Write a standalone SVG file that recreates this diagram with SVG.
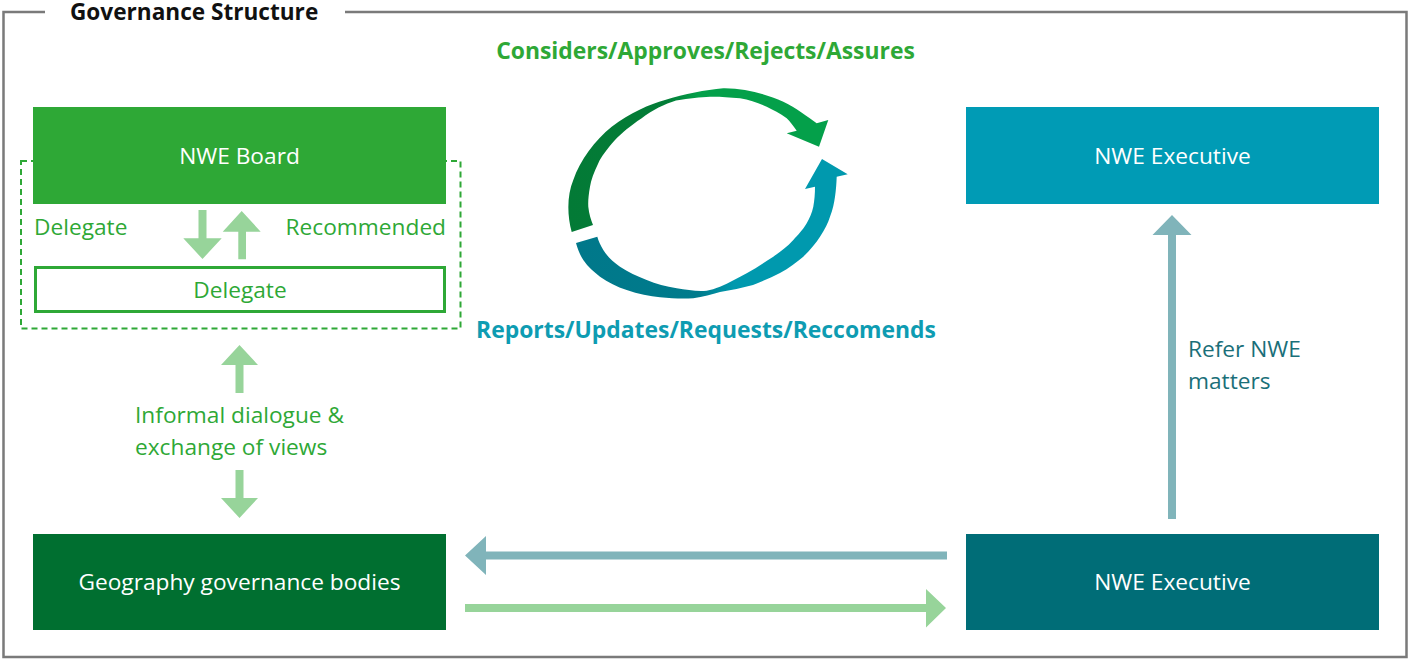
<svg xmlns="http://www.w3.org/2000/svg" width="1410" height="660" viewBox="0 0 1410 660">
<defs>
<style>
text{font-family:"Open Sans","Noto Sans","Liberation Sans",sans-serif}
.t{font-size:22.7px}
.w{fill:#ffffff}
.g{fill:#2ea836}
.tl{fill:#1a6f79}
.b{font-weight:bold}
.lg{fill:#97d49a}
.lt{fill:#80b4ba}
</style>
<linearGradient id="gg" gradientUnits="userSpaceOnUse" x1="568" y1="0" x2="829" y2="0">
<stop offset="0" stop-color="#037a36"/>
<stop offset="0.38" stop-color="#037d37"/>
<stop offset="0.5" stop-color="#04a04a"/>
<stop offset="1" stop-color="#04a04a"/>
</linearGradient>
<linearGradient id="tg" gradientUnits="userSpaceOnUse" x1="576" y1="0" x2="848" y2="0">
<stop offset="0" stop-color="#00788a"/>
<stop offset="0.45" stop-color="#007b8c"/>
<stop offset="0.58" stop-color="#0099ae"/>
<stop offset="1" stop-color="#0099ae"/>
</linearGradient>
</defs>
<rect x="0" y="0" width="1410" height="660" fill="#ffffff"/>
<g id="frame">
<path d="M45,12 H3.5 V657 H1406.5 V12 H345" fill="none" stroke="#7a7a7a" stroke-width="2.5"/>
<text x="70" y="20" class="b" font-size="22.6" fill="#111111">Governance Structure</text>
</g>
<g id="cycle">
<path fill="url(#gg)" d="M571.7,232 C567,215 567,195 573.3,180 C580,160 595,140 611.7,126.7 C630,113 650,104 665,100 C685,94 705,90 723.3,88.3 C745,88 765,94 783.3,101.7 C795,107 808,117 816.7,123.3 L828.3,120 L819,146.7 L786.7,133.3 L796.7,130.7 C793,126 790,121 786.7,118.3 C780,113 773,110 766.7,106.7 C758,103 750,100 740,98.3 C728,97 718,96.5 710,96.7 C700,97 690,98.3 676,100.5 C665,104 652,110 641.7,118.3 C630,126 622,133 615,140 C607,149 601,157 598.3,163.3 C594,172 591,180 590,186.7 C588.5,195 588,201 588.3,206.7 C589,214 591,220 593,225 Z"/>
<path fill="url(#tg)" d="M576,243 C578,250 580,255 583.3,260 C588,267 594,272 600,276.7 C608,282 617,287 626.7,290 C638,294 650,296 660,297.3 C672,298.5 683,299 693.3,298.3 C703,297 712,294 720,292 C731,290 742,288 753,285 C763,281 772,277 780,273 C789,268 797,262 803.3,256.7 C810,250 816,243 820,236.7 C825,229 828,223 830,216.7 C833,209 834,203 835,196.7 C836,190 836.5,183 836.7,176.7 L847.7,174.3 L822,159 L805,189 L815,186.7 C815,194 814.5,200 813.3,206.7 C812,213 809.5,218 806.7,223.3 C802,231 798,235 793.3,240 C787,247 780,252 773.3,256.7 C765,262 756,268 746.7,273.3 C738,278 729,283 720,286.7 C715,288.5 711,290 706.7,290.7 C697,291.5 687,290 676.7,288.3 C666,286.5 656,284 646.7,280 C637,276 628,272 620,266.7 C613,262 607,256 603.3,250 C600.5,245 598.5,241 597.3,236.7 Z"/>
</g>
<g id="lbl-considers">
<text x="705.5" y="59" text-anchor="middle" class="b g" font-size="22.9">Considers/Approves/Rejects/Assures</text>
</g>
<g id="lbl-reports">
<text x="706" y="338" text-anchor="middle" class="b" font-size="22.9" fill="#0e9cb2">Reports/Updates/Requests/Reccomends</text>
</g>
<g id="board-group">
<rect x="21" y="161" width="439.5" height="167.5" fill="none" stroke="#2ea836" stroke-width="2" stroke-dasharray="6 4"/>
</g>
<g id="nwe-board">
<rect x="33" y="107" width="413" height="97" fill="#2ea836"/>
<text x="239.5" y="163.5" text-anchor="middle" class="t w">NWE Board</text>
</g>
<g id="delegate-box">
<rect x="35.5" y="267.5" width="409" height="44" fill="#ffffff" stroke="#2ea836" stroke-width="3"/>
<text x="240" y="297.5" text-anchor="middle" class="t g">Delegate</text>
</g>
<g id="geography">
<rect x="33" y="534" width="413" height="96" fill="#006f30"/>
<text x="239.5" y="590" text-anchor="middle" class="t w">Geography governance bodies</text>
</g>
<g id="nwe-exec-top">
<rect x="966" y="107" width="413" height="97" fill="#009bb5"/>
<text x="1172.5" y="163.5" text-anchor="middle" class="t w">NWE Executive</text>
</g>
<g id="nwe-exec-bottom">
<rect x="966" y="534" width="413" height="96" fill="#006d77"/>
<text x="1172.5" y="590" text-anchor="middle" class="t w">NWE Executive</text>
</g>
<g id="connectors">
<polygon class="lg" points="198.5,210 206.5,210 206.5,238.3 221.7,238.3 202.5,259 183.3,238.3 198.5,238.3"/>
<polygon class="lg" points="238.3,259.3 246,259.3 246,231.7 260.7,231.7 241.7,211 222.7,231.7 238.3,231.7"/>
<polygon class="lg" points="235.5,393 243.5,393 243.5,365 258,365 239.5,345 221,365 235.5,365"/>
<polygon class="lg" points="235.5,470 243.5,470 243.5,498 258,498 239.5,518 221,498 235.5,498"/>
<polygon class="lt" points="1168,519 1176,519 1176,235 1191.5,235 1172,215 1152.5,235 1168,235"/>
<polygon class="lt" points="947,551.5 947,559.5 486,559.5 486,575 465,555.5 486,536 486,551.5"/>
<polygon class="lg" points="465,604 465,612 926,612 926,627.5 946,608 926,589 926,604"/>
</g>
<g id="labels">
<text x="34" y="235" class="t g">Delegate</text>
<text x="446" y="235" text-anchor="end" class="t g">Recommended</text>
<text x="135" y="423" class="t g">Informal dialogue &amp;</text>
<text x="135" y="455" class="t g">exchange of views</text>
<text x="1188" y="357" class="t tl">Refer NWE</text>
<text x="1188" y="389" class="t tl">matters</text>
</g>
</svg>
